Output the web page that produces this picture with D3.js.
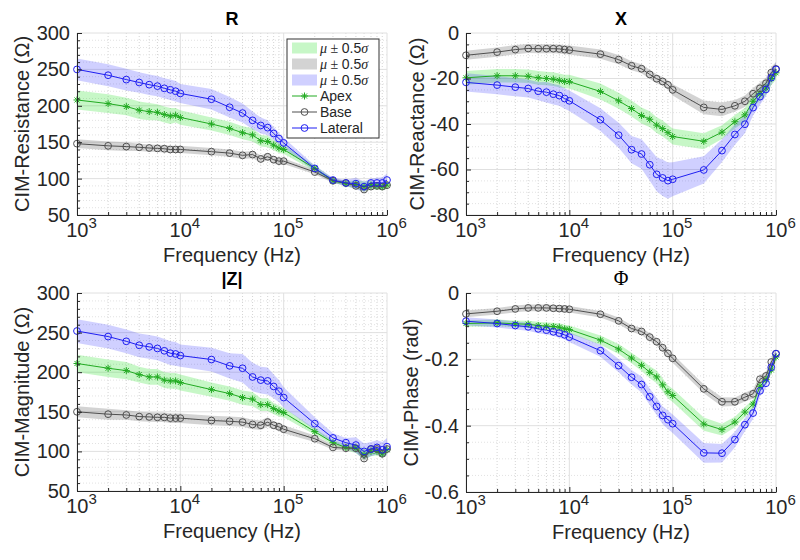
<!DOCTYPE html>
<html>
<head>
<meta charset="utf-8">
<script src="https://cdn.jsdelivr.net/npm/d3@7"></script>
<style>
body { margin: 0; background: #fff; }
svg { font-family: "Liberation Sans", Arial, Helvetica, sans-serif; }
</style>
</head>
<body>
<svg id="chart" width="800" height="560"></svg>
<script>
// frequencies (Hz)
const freq = [1e3,2e3,3e3,4e3,5e3,6e3,7e3,8e3,9e3,1e4,
              2e4,3e4,4e4,5e4,6e4,7e4,8e4,9e4,1e5,
              2e5,3e5,4e5,5e5,6e5,7e5,8e5,9e5,1e6]
const xTicks = [1e3,1e4,1e5,1e6]
const seriesNames = ["Apex","Base","Lateral"]

// R
const rApex    = [208,203,199,194,192,191,188,186,187,184, 175,169,163,160,152,151,146,142,140, 114,97,93,92,89,91,90,89,91]
const rBase    = [148,145,144,143,142,141.5,141,140,140,140, 137,135,132,133,127,130,126,124,124, 109,97,94,90,85,89,90,89,91]
const rLateral = [250,242,236,232,229,227,224,222,220,217, 209,198,190,180,173,170,162,155,149, 114,98,94,93,89,94,94,94,98]
const rApexHalf    = [13,13,12,12,12,11,11,11,10,10, 9,9,9,9,8,8,7,7,6, 4,3,3,6,7,6,5,5,5]
const rBaseHalf    = [6,6,6,5,5,5,5,5,5,5, 5,5,5,5,5,5,5,4,4, 3,3,3,3,3,4,3,3,3]
const rLateralHalf = [15,15,15,14,14,14,14,14,14,13, 14,14,13,12,11,10,9,8,7, 4,3,4,8,7,6,7,8,9]
const rTicks = [50,100,150,200,250,300]

// X
const xApex    = [-19.7,-18.8,-18.8,-19,-19.7,-20,-20.3,-20.8,-21.3,-21.4, -25.7,-29.8,-33.2,-36.3,-37.9,-40.5,-42,-43.8,-45.5, -47.6,-43.6,-39,-36,-30,-26.7,-24.2,-20,-17.5]
const xBase    = [-9.8,-8.4,-7.3,-6.8,-6.9,-6.9,-6.9,-7,-7.3,-7.5, -9.3,-11.7,-14.4,-15.7,-18.2,-20.1,-21.3,-22.8,-25, -32.7,-33.6,-32,-30,-26.7,-24.3,-22.1,-17.4,-15.8]
const xLateral = [-21.7,-22.9,-23.8,-24.4,-25.6,-26,-26.9,-27.5,-28.8,-29.8, -38.1,-44.9,-51.3,-53.2,-57.9,-62.1,-63.7,-64.9,-64.3, -60.2,-51.7,-44.6,-40.1,-32.8,-28,-24.8,-19.6,-16]
const xApexHalf    = [3,3,3,3,3,3,3,3,3,3, 3.5,3.5,3.5,3.5,3.5,3.5,3.5,3.5,3.5, 3.5,3,3,3,3,3,3,3,3]
const xBaseHalf    = [2,2,2,2,2,2,2,2,2,2, 2,2,2,2,2,2,2,2,2.5, 3,3,2.5,2.5,2.5,2.5,2.5,2.5,3]
const xLateralHalf = [4,4,4,4,4,4.5,4.5,4.5,4.5,4.5, 5,5.5,6,6.5,7,7.5,8,8,7.5, 6,5,4.5,4,3.5,3.5,3,3,3]
const xReTicks = [-80,-60,-40,-20,0]

// |Z|
const zApex    = [211,205,202,197,194,194,190,189,189,187, 178,173,168,166,159,159,154,151,149, 125,111,105,104,96,100,100,97,102]
const zBase    = [150,147,146,144,143.5,143,143,142,142,142, 139,138,137,134,133,137,133,131,128, 116,105,104,104,91,103,103,97,103]
const zLateral = [252,245,239,234,232,230,227,224,223,221, 216,208,205,194,190,189,182,176,168, 135,117,111,108,100,103,105,102,106]
const zApexHalf    = [11,11,11,10,10,10,10,10,10,10, 9,9,9,9,8,8,7,7,6, 4,3,4,6,7,6,5,5,6]
const zBaseHalf    = [7,7,6,6,6,6,6,6,6,6, 6,6,6,6,6,6,5,5,5, 4,3,3,3,4,4,4,4,4]
const zLateralHalf = [15,15,15,15,15,15,15,15,15,14, 15,16,18,18,17,17,15,14,13, 8,6,6,10,10,9,9,10,11]
const zTicks = [50,100,150,200,250,300]

// Phi
const phiApex    = [-0.092,-0.09,-0.093,-0.094,-0.098,-0.1,-0.101,-0.103,-0.108,-0.11, -0.142,-0.169,-0.196,-0.218,-0.239,-0.253,-0.277,-0.298,-0.309, -0.395,-0.412,-0.389,-0.359,-0.335,-0.281,-0.261,-0.232,-0.193]
const phiBase    = [-0.063,-0.055,-0.048,-0.045,-0.045,-0.045,-0.046,-0.047,-0.048,-0.049, -0.064,-0.084,-0.107,-0.116,-0.133,-0.147,-0.165,-0.182,-0.197, -0.289,-0.328,-0.328,-0.314,-0.304,-0.26,-0.25,-0.208,-0.183]
const phiLateral = [-0.085,-0.092,-0.098,-0.102,-0.108,-0.112,-0.117,-0.121,-0.126,-0.133, -0.174,-0.219,-0.254,-0.276,-0.313,-0.342,-0.369,-0.382,-0.394, -0.482,-0.483,-0.442,-0.397,-0.362,-0.295,-0.272,-0.224,-0.183]
const phiApexHalf    = [0.01,0.01,0.01,0.01,0.011,0.011,0.011,0.012,0.012,0.012, 0.014,0.015,0.016,0.017,0.018,0.019,0.02,0.02,0.02, 0.02,0.018,0.016,0.015,0.014,0.013,0.012,0.012,0.012]
const phiBaseHalf    = [0.01,0.01,0.01,0.01,0.01,0.01,0.01,0.01,0.01,0.01, 0.01,0.01,0.01,0.011,0.012,0.012,0.012,0.013,0.013, 0.013,0.014,0.013,0.013,0.014,0.013,0.012,0.012,0.013]
const phiLateralHalf = [0.012,0.012,0.012,0.012,0.013,0.013,0.013,0.014,0.014,0.015, 0.018,0.02,0.022,0.024,0.025,0.026,0.027,0.028,0.028, 0.03,0.028,0.024,0.02,0.018,0.016,0.015,0.014,0.014]
const phiTicks = [-0.6,-0.4,-0.2,0]

const lineColor = {Apex: "#22ab22", Base: "#4f4f4f", Lateral: "#1f1ff2"}
const bandColor = {Apex: "rgba(0,220,0,0.22)", Base: "rgba(110,110,110,0.3)", Lateral: "rgba(40,40,255,0.22)"}

const panels = [
  {title: "R", bold: true, ylab: "CIM-Resistance (Ω)", ticks: rTicks, minor: 25,
   means: [rApex, rBase, rLateral], halves: [rApexHalf, rBaseHalf, rLateralHalf],
   left: 77, right: 387, top: 33, bottom: 215, ylabX: 29, legend: true},
  {title: "X", bold: true, ylab: "CIM-Reactance (Ω)", ticks: xReTicks, minor: 16,
   means: [xApex, xBase, xLateral], halves: [xApexHalf, xBaseHalf, xLateralHalf],
   left: 466, right: 776, top: 33, bottom: 215, ylabX: 424},
  {title: "|Z|", bold: true, ylab: "CIM-Magnitude (Ω)", ticks: zTicks, minor: 25,
   means: [zApex, zBase, zLateral], halves: [zApexHalf, zBaseHalf, zLateralHalf],
   left: 77, right: 387, top: 293, bottom: 491, ylabX: 29},
  {title: "Φ", bold: false, ylab: "CIM-Phase (rad)", ticks: phiTicks, minor: 12,
   means: [phiApex, phiBase, phiLateral], halves: [phiApexHalf, phiBaseHalf, phiLateralHalf],
   left: 466, right: 776, top: 293, bottom: 492, ylabX: 418}
]

const svg = d3.select("#chart")
const axisColor = "#262626"
const starPath = "M-3.5,0H3.5M0,-3.5V3.5M-2.5,-2.5L2.5,2.5M-2.5,2.5L2.5,-2.5"

function addMarkers(g, name, pts) {
  if (name === "Apex") {
    g.selectAll("path.m").data(pts).join("path").attr("class", "m")
      .attr("d", starPath)
      .attr("transform", d => "translate(" + d[0] + "," + d[1] + ")")
      .attr("stroke", lineColor[name]).attr("stroke-width", 1).attr("fill", "none")
  } else {
    g.selectAll("circle").data(pts).join("circle")
      .attr("cx", d => d[0]).attr("cy", d => d[1]).attr("r", 3.4)
      .attr("stroke", lineColor[name]).attr("stroke-width", 1).attr("fill", "none")
  }
}

function drawPanel(p) {
  const g = svg.append("g")
  const x = d3.scaleLog().domain([1e3, 1e6]).range([p.left, p.right])
  const y = d3.scaleLinear().domain([p.ticks[0], p.ticks[p.ticks.length - 1]]).range([p.bottom, p.top])

  const minorX = x.ticks().filter(v => !xTicks.includes(v))
  const minorY = y.ticks(p.minor).filter(v => !p.ticks.some(t => Math.abs(t - v) < 1e-9))

  // grid
  const grid = g.append("g")
  grid.selectAll("line.mx").data(minorX).join("line").attr("class", "mx")
    .attr("x1", d => x(d)).attr("x2", d => x(d)).attr("y1", p.top).attr("y2", p.bottom)
    .attr("stroke", "#d4d4d4").attr("stroke-dasharray", "1,2")
  grid.selectAll("line.my").data(minorY).join("line").attr("class", "my")
    .attr("y1", d => y(d)).attr("y2", d => y(d)).attr("x1", p.left).attr("x2", p.right)
    .attr("stroke", "#e2e2e2").attr("stroke-dasharray", "1,2")
  grid.selectAll("line.gx").data(xTicks).join("line").attr("class", "gx")
    .attr("x1", d => x(d)).attr("x2", d => x(d)).attr("y1", p.top).attr("y2", p.bottom)
    .attr("stroke", "#e0e0e0")
  grid.selectAll("line.gy").data(p.ticks).join("line").attr("class", "gy")
    .attr("y1", d => y(d)).attr("y2", d => y(d)).attr("x1", p.left).attr("x2", p.right)
    .attr("stroke", "#e0e0e0")

  // bands
  seriesNames.forEach((name, i) => {
    const mean = p.means[i], half = p.halves[i]
    const area = d3.area()
      .x((d, j) => x(freq[j]))
      .y0((d, j) => y(mean[j] - half[j]))
      .y1((d, j) => y(mean[j] + half[j]))
    g.append("path").datum(mean).attr("d", area).attr("fill", bandColor[name])
  })

  // lines + markers
  seriesNames.forEach((name, i) => {
    const mean = p.means[i]
    const line = d3.line().x((d, j) => x(freq[j])).y(d => y(d))
    const sg = g.append("g")
    sg.append("path").datum(mean).attr("d", line)
      .attr("fill", "none").attr("stroke", lineColor[name]).attr("stroke-width", 1)
    addMarkers(sg, name, mean.map((d, j) => [x(freq[j]), y(d)]))
  })

  // axes
  g.append("g").attr("transform", "translate(0," + p.bottom + ")")
    .call(d3.axisBottom(x).tickValues(minorX).tickSizeInner(-3).tickSizeOuter(0).tickFormat(""))
    .call(a => a.select(".domain").remove())
    .call(a => a.selectAll("line").attr("stroke", axisColor))
  g.append("g").attr("transform", "translate(" + p.left + ",0)")
    .call(d3.axisLeft(y).tickValues(minorY).tickSizeInner(-3).tickSizeOuter(0).tickFormat(""))
    .call(a => a.select(".domain").remove())
    .call(a => a.selectAll("line").attr("stroke", axisColor))

  const xa = g.append("g").attr("transform", "translate(0," + p.bottom + ")")
    .call(d3.axisBottom(x).tickValues(xTicks).tickSizeInner(-5).tickSizeOuter(0).tickPadding(8).tickFormat(""))
  xa.attr("font-family", null)
  xa.select(".domain").attr("stroke", axisColor)
  xa.selectAll("line").attr("stroke", axisColor)
  xa.selectAll(".tick text").attr("fill", axisColor).attr("font-size", 20).attr("dx", 4)
    .each(function(d) {
      const t = d3.select(this)
      t.append("tspan").text("10")
      t.append("tspan").attr("dy", -9).attr("font-size", 15).text(Math.round(Math.log10(d)))
    })

  const ya = g.append("g").attr("transform", "translate(" + p.left + ",0)")
    .call(d3.axisLeft(y).tickValues(p.ticks).tickSizeInner(-5).tickSizeOuter(0).tickPadding(7)
      .tickFormat(d => String(d)))
  ya.attr("font-family", null)
  ya.select(".domain").attr("stroke", axisColor)
  ya.selectAll("line").attr("stroke", axisColor)
  ya.selectAll(".tick text").attr("fill", axisColor).attr("font-size", 20)

  // labels
  const cx = (p.left + p.right) / 2
  g.append("text").attr("x", cx).attr("y", p.bottom + 47).attr("text-anchor", "middle")
    .attr("font-size", 20).attr("fill", axisColor).text("Frequency (Hz)")
  g.append("text")
    .attr("transform", "translate(" + p.ylabX + "," + ((p.top + p.bottom) / 2) + ") rotate(-90)")
    .attr("text-anchor", "middle").attr("font-size", 20).attr("fill", axisColor).text(p.ylab)
  g.append("text").attr("x", cx).attr("y", p.top - 8).attr("text-anchor", "middle")
    .attr("font-size", p.bold ? 18 : 20)
    .attr("font-weight", p.bold ? "bold" : "normal")
    .attr("font-family", p.bold ? null : "'Liberation Serif', 'DejaVu Serif', serif")
    .attr("fill", "#000").text(p.title)

  if (p.legend) drawLegend(g)
}

function drawLegend(g) {
  const lg = g.append("g")
  lg.append("rect").attr("x", 287).attr("y", 39).attr("width", 92).attr("height", 99)
    .attr("fill", "#fff").attr("stroke", "#333").attr("stroke-width", 1)
  const rowY = [48, 64, 80, 96, 112, 128]
  seriesNames.forEach((name, i) => {
    lg.append("rect").attr("x", 292).attr("y", rowY[i] - 5.5).attr("width", 25).attr("height", 11)
      .attr("fill", bandColor[name])
    const t = lg.append("text").attr("x", 320).attr("y", rowY[i] + 5).attr("font-size", 14).attr("fill", axisColor)
    t.append("tspan").attr("font-family", "'Liberation Serif', serif").attr("font-style", "italic").text("μ")
    t.append("tspan").attr("font-family", "'Liberation Serif', serif").text(" ± ")
    t.append("tspan").text("0.5")
    t.append("tspan").attr("font-family", "'Liberation Serif', serif").attr("font-style", "italic").text("σ")
  })
  seriesNames.forEach((name, i) => {
    const yy = rowY[i + 3]
    const sg = lg.append("g")
    sg.append("line").attr("x1", 292).attr("x2", 317).attr("y1", yy).attr("y2", yy)
      .attr("stroke", lineColor[name]).attr("stroke-width", 1)
    addMarkers(sg, name, [[304.5, yy]])
    lg.append("text").attr("x", 320).attr("y", yy + 5).attr("font-size", 14).attr("fill", axisColor).text(name)
  })
}

panels.forEach(drawPanel)
</script>
</body>
</html>
